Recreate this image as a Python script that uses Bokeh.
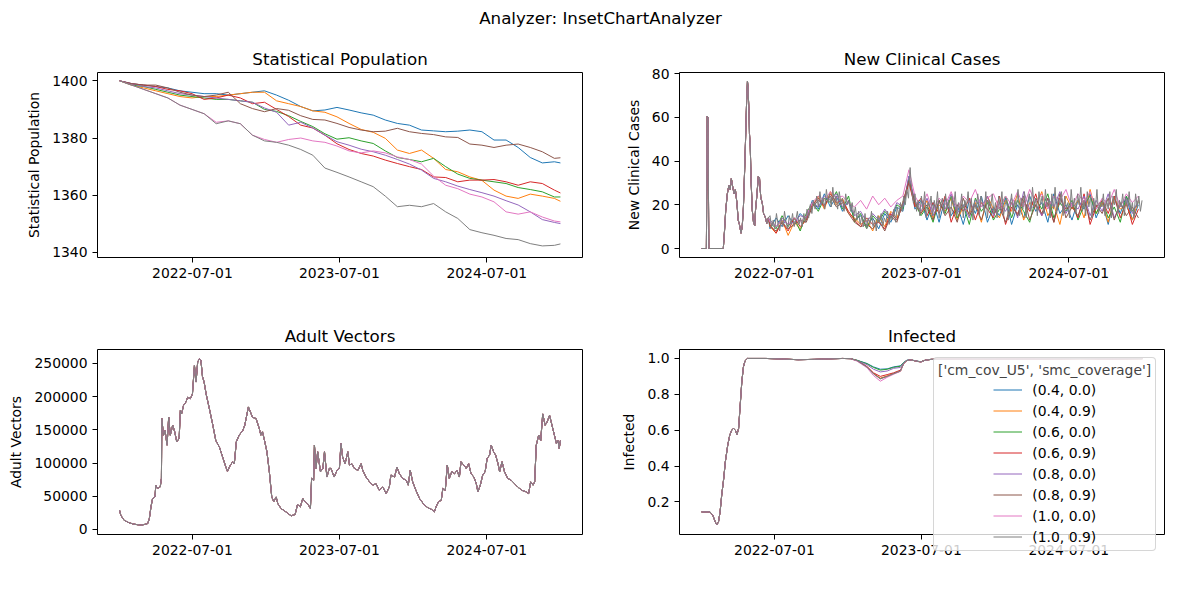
import datetime as dt
from bokeh.plotting import figure
from bokeh.layouts import column, row
from bokeh.models import (Range1d, FixedTicker, DatetimeTickFormatter, PrintfTickFormatter,
                          Legend, LegendItem, Label)
from bokeh.embed import file_html
from bokeh.resources import INLINE

# ---------------- data ----------------
START = dt.datetime(2022, 1, 1)
series_labels = ["(0.4, 0.0)", "(0.4, 0.9)", "(0.6, 0.0)", "(0.6, 0.9)",
                 "(0.8, 0.0)", "(0.8, 0.9)", "(1.0, 0.0)", "(1.0, 0.9)"]
colors = ["#1f77b4", "#ff7f0e", "#2ca02c", "#d62728",
          "#9467bd", "#8c564b", "#e377c2", "#7f7f7f"]
legend_title = "['cm_cov_U5', 'smc_coverage']"
x_tick_dates = ["2022-07-01", "2023-07-01", "2024-07-01"]

# Statistical Population (days since 2022-01-01)
pop_days = list(range(0, 1081, 30)) + [1095]
pop_04_00 = [1400, 1399, 1398.5, 1398, 1397.5, 1396.5, 1396, 1395.5, 1395.5, 1395,
             1395.5, 1396, 1396.5, 1395, 1393.2, 1391, 1389.5, 1389.8, 1390.7, 1389.8,
             1388.8, 1388, 1386.3, 1385.1, 1384.5, 1382.8, 1382.5, 1382.2, 1382.4, 1382.8,
             1382.2, 1379.3, 1379.3, 1376.7, 1373.2, 1371.3, 1371.7, 1371.3]
pop_04_09 = [1400, 1398.5, 1397.5, 1396.5, 1395.5, 1394.5, 1394, 1394.5, 1394.5, 1395,
             1395.5, 1396, 1396, 1393, 1392, 1391, 1389.5, 1389, 1387.4, 1385.1,
             1383, 1382, 1379.9, 1375.8, 1374.6, 1375.8, 1372.9, 1369, 1368.2, 1366.4,
             1365.2, 1361.8, 1359.7, 1358.9, 1360.4, 1359.7, 1358.9, 1357.9]
pop_06_00 = [1400, 1398.5, 1398, 1397, 1396, 1395, 1394.5, 1394, 1393.5, 1393.5,
             1393, 1392.5, 1390, 1389.3, 1387.8, 1385.8, 1384, 1381.5, 1379.6, 1380.1,
             1379, 1378.1, 1375.5, 1373.2, 1372.5, 1371.7, 1372.9, 1370, 1367.4, 1365.9,
             1365.3, 1364.7, 1364.1, 1362.7, 1362, 1361.2, 1359.4, 1359.4]
pop_06_09 = [1400, 1399, 1398.5, 1398, 1397, 1396.5, 1395.5, 1393.5, 1394, 1395,
             1394, 1392, 1392.5, 1390, 1387.5, 1384.5, 1383.5, 1381, 1378, 1376,
             1374.6, 1373.7, 1372.3, 1371.1, 1370, 1369, 1366.4, 1366.2, 1364.7, 1365.3,
             1365.3, 1365.5, 1364.7, 1363.5, 1364.7, 1364.1, 1361.8, 1360.8]
pop_08_00 = [1400, 1399, 1398, 1397.5, 1396.5, 1395.5, 1395, 1394.5, 1394, 1393.5,
             1393, 1392.5, 1390.5, 1389, 1384.5, 1385.5, 1383.5, 1381, 1378.7, 1377.5,
             1376.1, 1375.2, 1374, 1372.5, 1370.9, 1368.8, 1365.9, 1364.7, 1363.2, 1362,
             1360.9, 1359.7, 1358.1, 1356.6, 1354.2, 1351.5, 1350.5, 1350.1]
pop_08_09 = [1400, 1399, 1398.5, 1398.5, 1397.5, 1396, 1395, 1394.5, 1395, 1396,
             1392, 1390.3, 1389.2, 1390.3, 1389.7, 1387.8, 1386.5, 1386.3, 1385.1, 1383.7,
             1382.8, 1382.2, 1382.4, 1383.4, 1382.2, 1381.6, 1381.2, 1380.4, 1380.2, 1377.9,
             1377.5, 1376.7, 1377.5, 1377.9, 1376.7, 1375.2, 1372.9, 1373.1]
pop_10_00 = [1400, 1398.5, 1397, 1395.5, 1394, 1391.5, 1390, 1388.5, 1385.5, 1386,
             1385, 1381, 1379.5, 1378.5, 1379.5, 1380, 1379, 1378.5, 1377.2, 1375.5,
             1374.8, 1375.5, 1374.8, 1373.4, 1372.5, 1370.9, 1366.7, 1363.5, 1362.3, 1360.4,
             1359.4, 1357.7, 1354.2, 1353.4, 1354.2, 1352.4, 1351, 1350.7]
pop_10_09 = [1400, 1398.5, 1397, 1395.5, 1394, 1391.5, 1390, 1388.5, 1385, 1386,
             1385, 1381, 1379, 1378.5, 1377.5, 1376, 1374, 1369.5, 1368, 1366.4,
             1364.7, 1363, 1359.7, 1356, 1356.5, 1356, 1357.1, 1354.2, 1351.9, 1348,
             1346.9, 1346, 1344.9, 1344.5, 1343.1, 1342.3, 1342.5, 1343]
pop_series = [pop_04_00, pop_04_09, pop_06_00, pop_06_09,
              pop_08_00, pop_08_09, pop_10_00, pop_10_09]

# New Clinical Cases: shared start (all scenarios identical), then per scenario
cases_early_days = [0, 12, 14, 16, 18, 54, 57, 60, 64, 68, 71, 74, 78, 81, 84, 88, 91, 94,
                    98, 101, 104, 107, 109, 112, 114, 115, 118, 119, 121, 123, 126, 129,
                    132, 134, 137, 141, 144, 147, 151, 154, 158, 162, 166]
cases_early = [0, 0, 60.5, 60, 0, 0, 8, 17.5, 25, 29, 27, 32, 27.5, 25, 27, 20.5, 13, 11,
               7, 10, 19, 36, 48, 68, 76.5, 74.5, 62, 52.5, 46.5, 31, 17.5, 12,
               10.5, 17.5, 23.5, 33, 32, 23.5, 20.5, 16, 14.5, 11.5, 14]
cases_late_start = 170
cases_step_gray = 4
cases_step_other = 15
cases_10_09 = [15, 10, 13, 9, 16, 11, 8, 14, 10, 17,
               12, 9, 15, 11, 16, 10, 13, 17, 11, 14,
               10, 16, 12, 18, 14, 20, 16, 22, 18, 24,
               19, 26, 20, 23, 18, 27, 21, 25, 19, 28,
               20, 24, 18, 26, 21, 23, 17, 25, 20, 22,
               17, 21, 15, 19, 13, 17, 11, 15, 10, 16,
               9, 14, 11, 17, 10, 13, 8, 15, 12, 16,
               10, 14, 12, 17, 11, 15, 13, 18, 12, 19,
               15, 21, 17, 24, 20, 27, 23, 37, 26, 21,
               25, 17, 22, 15, 24, 18, 26, 14, 21, 19,
               24, 15, 22, 18, 26, 14, 20, 23, 16, 25,
               18, 22, 14, 24, 19, 26, 15, 21, 17, 25,
               14, 22, 19, 26, 16, 23, 13, 21, 18, 25,
               15, 24, 20, 17, 26, 14, 22, 19, 25, 16,
               21, 14, 24, 18, 26, 15, 20, 23, 13, 19,
               25, 16, 22, 19, 27, 15, 23, 18, 26, 14,
               21, 25, 17, 28, 19, 23, 15, 26, 20, 24,
               16, 27, 19, 22, 14, 25, 18, 28, 16, 23,
               20, 26, 15, 24, 18, 21, 14, 27, 19, 23,
               16, 25, 20, 28, 17, 22, 15, 26, 19, 24,
               14, 23, 18, 27, 16, 21, 19, 25, 15, 22,
               18, 26, 14, 24, 20, 27, 16, 22, 19, 25,
               15, 23, 18, 26, 17, 21, 14, 25, 19, 24,
               17, 22]
cases_04_00 = [9, 14, 10, 15, 11, 16, 13, 22, 18, 25, 19, 24, 17, 22, 13, 15, 10, 14, 9, 16,
               12, 19, 17, 33, 18, 22, 13, 21, 12, 23, 15, 20, 11, 22, 16, 24, 12, 19, 15, 23,
               11, 20, 14, 24, 17, 21, 12, 25, 16, 20, 13, 22, 18, 25, 14, 21, 11, 23, 16, 24,
               13, 20]
cases_04_09 = [10, 7, 13, 6, 12, 9, 14, 19, 24, 18, 26, 20, 23, 16, 14, 11, 13, 8, 15, 10,
               17, 14, 21, 31, 20, 16, 22, 14, 20, 17, 23, 13, 19, 16, 21, 12, 24, 18, 14, 22,
               17, 25, 13, 21, 19, 26, 15, 20, 11, 24, 18, 22, 14, 27, 16, 21, 12, 23, 18, 20,
               13, 22]
cases_06_00 = [12, 9, 15, 10, 14, 8, 16, 21, 17, 23, 21, 26, 18, 24, 12, 16, 9, 15, 12, 17,
               14, 20, 18, 32, 21, 15, 19, 12, 22, 16, 24, 14, 20, 11, 23, 17, 21, 13, 18, 24,
               14, 22, 17, 12, 23, 18, 25, 14, 21, 17, 22, 13, 20, 24, 16, 22, 14, 19, 12, 24,
               17, 21]
cases_06_09 = [11, 7, 12, 8, 14, 10, 13, 20, 23, 19, 25, 21, 22, 17, 13, 10, 14, 11, 12, 9,
               16, 13, 20, 30, 19, 23, 15, 21, 16, 24, 12, 20, 17, 23, 13, 21, 18, 14, 24, 11,
               19, 16, 22, 17, 25, 15, 21, 12, 23, 18, 20, 14, 25, 11, 19, 22, 16, 24, 14, 21,
               11, 18]
cases_08_00 = [13, 10, 14, 11, 12, 15, 14, 21, 19, 24, 22, 25, 19, 21, 15, 17, 12, 16, 13, 18,
               14, 21, 19, 33, 22, 17, 23, 15, 21, 18, 25, 16, 20, 14, 22, 19, 24, 15, 21, 17,
               23, 14, 26, 18, 20, 15, 23, 19, 26, 16, 21, 18, 24, 15, 22, 17, 25, 14, 20, 23,
               16, 22]
cases_08_09 = [10, 8, 12, 9, 11, 13, 12, 19, 22, 20, 24, 19, 21, 16, 12, 10, 11, 9, 13, 8,
               15, 12, 21, 31, 21, 16, 20, 13, 22, 15, 19, 12, 23, 15, 20, 13, 22, 16, 19, 12,
               21, 15, 24, 13, 20, 16, 23, 12, 25, 14, 19, 15, 22, 13, 20, 16, 23, 13, 21, 15,
               19, 14]
cases_10_00 = [12, 10, 13, 11, 14, 12, 15, 21, 24, 22, 26, 23, 24, 21, 19, 22, 18, 24, 20, 23,
               19, 22, 24, 36, 24, 19, 25, 17, 23, 20, 26, 18, 24, 21, 27, 19, 23, 25, 18, 24,
               20, 26, 19, 27, 21, 25, 18, 24, 22, 27, 19, 25, 21, 26, 18, 23, 20, 27, 19, 25,
               21, 24]
cases_series = [cases_04_00, cases_04_09, cases_06_00, cases_06_09,
                cases_08_00, cases_08_09, cases_10_00, cases_10_09]

# Adult Vectors (identical for all scenarios), values in thousands
vector_days = [0, 3, 11, 24, 36, 53, 65, 70, 74, 78,
               82, 88, 90, 94, 101, 104, 105, 109, 113, 118,
               122, 126, 132, 137, 142, 148, 151, 154, 159, 165,
               169, 176, 181, 186, 190, 194, 198, 202, 206, 210,
               215, 223, 231, 239, 248, 256, 264, 268, 275, 281,
               285, 290, 297, 306, 311, 320, 325, 330, 339, 347,
               351, 355, 360, 366, 372, 378, 383, 389, 393, 401,
               413, 426, 436, 442, 449, 455, 461, 467, 474, 477,
               482, 484, 488, 492, 499, 505, 509, 515, 521, 525,
               533, 540, 546, 550, 554, 560, 567, 571, 577, 583,
               592, 600, 604, 612, 621, 629, 637, 645, 654, 662,
               670, 674, 683, 689, 695, 703, 712, 717, 722, 728,
               736, 745, 756, 766, 774, 782, 786, 792, 799, 803,
               809, 814, 819, 825, 832, 838, 844, 848, 855, 861,
               867, 873, 880, 886, 890, 896, 902, 908, 913, 919,
               923, 929, 934, 940, 944, 950, 956, 964, 973, 981,
               989, 999, 1010, 1016, 1021, 1027, 1031, 1035, 1041, 1046,
               1051, 1057, 1062, 1068, 1074, 1080, 1085, 1089, 1092, 1095]
vector_k = [29, 21.5, 14, 10, 8, 6.5, 8, 9, 16.6, 34,
            46.7, 49, 66.8, 61.8, 64, 77, 167, 142, 149, 127,
            169, 142, 157, 147, 132, 137, 179, 174, 187, 192,
            199, 197, 204, 247, 222, 252, 257, 255, 230, 222,
            204, 182, 159, 134, 124, 109, 94, 87.7, 96.7, 102,
            99, 132, 142, 149, 157, 184.5, 177, 169, 167, 152,
            142, 147, 134, 117, 87, 49, 42, 49, 39, 31.6,
            26.6, 20.6, 22.6, 37.6, 34, 46.7, 41.7, 39, 31.6, 77,
            74, 127, 92, 117, 87, 92, 117, 79, 92, 92,
            79, 89, 92, 129.6, 109, 99, 117, 97, 99, 92,
            89, 99, 89, 79, 71.7, 66.8, 69, 59, 64, 54,
            64, 82, 79, 94, 84, 77, 74, 66.8, 89, 71.7,
            59, 46.7, 37.6, 32.6, 30.6, 26.6, 34, 41.7, 44, 61.8,
            59, 97, 77, 87, 84, 89, 79, 102, 97, 92,
            99, 84, 79, 69, 56.7, 66.8, 82, 87, 107, 112,
            127, 117, 112, 99, 87, 102, 87, 77, 74, 69,
            64, 59, 56.7, 54, 71.7, 66.8, 71.7, 127, 142, 134,
            174, 157, 162, 172, 157, 142, 129.6, 134, 122, 134]

# Infected
inf_early_days = [0, 21, 28, 34, 38, 42, 46, 50, 55, 59, 65, 70, 75, 79, 84, 88, 92, 96,
                  100, 104, 108, 114, 160, 200, 240, 280, 320, 350, 370]
inf_early = [0.144, 0.144, 0.125, 0.088, 0.072, 0.088, 0.144, 0.237, 0.33, 0.423, 0.516,
             0.572, 0.60, 0.61, 0.60, 0.575, 0.61, 0.74, 0.87, 0.953, 0.987, 1.0, 1.0,
             0.997, 0.993, 0.995, 0.998, 1.0, 0.999]
inf_late_days = [386, 411, 427, 444, 461, 477, 494, 502, 510, 520, 535, 545, 555, 570,
                 620, 700, 780, 860, 940, 1020, 1095]
inf_04_00 = [0.99, 0.972, 0.953, 0.94, 0.942, 0.953, 0.959, 0.978, 0.99, 0.992, 0.985,
             0.982, 0.99, 0.995, 0.997, 0.998, 0.997, 0.998, 0.999, 0.998, 0.999]
inf_04_09 = [0.988, 0.953, 0.916, 0.89, 0.903, 0.916, 0.929, 0.972, 0.988, 0.992, 0.984,
             0.981, 0.99, 0.995, 0.997, 0.998, 0.997, 0.998, 0.999, 0.998, 0.999]
inf_06_00 = [0.99, 0.97, 0.95, 0.935, 0.94, 0.95, 0.957, 0.977, 0.99, 0.992, 0.985,
             0.981, 0.99, 0.995, 0.997, 0.998, 0.997, 0.998, 0.999, 0.998, 0.999]
inf_06_09 = [0.988, 0.955, 0.92, 0.9, 0.91, 0.92, 0.935, 0.972, 0.988, 0.992, 0.984,
             0.981, 0.99, 0.995, 0.997, 0.998, 0.997, 0.998, 0.999, 0.998, 0.999]
inf_08_00 = [0.988, 0.965, 0.94, 0.925, 0.93, 0.945, 0.95, 0.975, 0.99, 0.992, 0.985,
             0.981, 0.99, 0.995, 0.997, 0.998, 0.997, 0.998, 0.999, 0.998, 0.999]
inf_08_09 = [0.988, 0.953, 0.915, 0.888, 0.9, 0.915, 0.93, 0.972, 0.988, 0.992, 0.984,
             0.981, 0.99, 0.995, 0.997, 0.998, 0.997, 0.998, 0.999, 0.998, 0.999]
inf_10_00 = [0.985, 0.948, 0.905, 0.873, 0.895, 0.912, 0.928, 0.97, 0.988, 0.992, 0.984,
             0.98, 0.99, 0.995, 0.997, 0.998, 0.997, 0.998, 0.999, 0.998, 0.999]
inf_10_09 = [0.988, 0.952, 0.914, 0.886, 0.9, 0.915, 0.93, 0.972, 0.988, 0.992, 0.984,
             0.981, 0.99, 0.995, 0.997, 0.998, 0.997, 0.998, 0.999, 0.998, 0.999]
inf_series = [inf_04_00, inf_04_09, inf_06_00, inf_06_09,
              inf_08_00, inf_08_09, inf_10_00, inf_10_09]

# ---------------- helpers ----------------
FONT = "DejaVu Sans"
TICK_FS = "13.9px"
TITLE_FS = "16.7px"
EPOCH = dt.datetime(1970, 1, 1)


def to_dates(days):
    return [START + dt.timedelta(days=float(d)) for d in days]


def ms(d):
    return (d - EPOCH).total_seconds() * 1000.0


X0 = START - dt.timedelta(days=54.8)
X1 = START + dt.timedelta(days=1095 + 54.8)
xticks = [ms(dt.datetime.strptime(s, "%Y-%m-%d")) for s in x_tick_dates]


def make_fig(title, ylabel, yr, yticks, yfmt, bl, br, bt, bb):
    p = figure(frame_width=485, frame_height=185, x_axis_type="datetime",
               x_range=Range1d(X0, X1), y_range=Range1d(*yr),
               output_backend="svg", toolbar_location=None,
               min_border_left=bl, min_border_right=br,
               min_border_top=bt, min_border_bottom=bb)
    p.title.text = title
    p.title.text_font = FONT
    p.title.text_font_size = TITLE_FS
    p.title.text_font_style = "normal"
    p.title.align = "center"
    p.title.standoff = 8
    p.title.text_color = "black"
    p.xgrid.visible = False
    p.ygrid.visible = False
    p.outline_line_color = "black"
    p.outline_line_alpha = 1.0
    p.outline_line_width = 1
    p.xaxis.ticker = FixedTicker(ticks=xticks)
    fmt = DatetimeTickFormatter()
    for a in ["milliseconds", "seconds", "minsec", "minutes", "hourmin", "hours",
              "days", "months", "years"]:
        setattr(fmt, a, "%Y-%m-%d")
    p.xaxis.formatter = fmt
    p.yaxis.ticker = FixedTicker(ticks=yticks)
    p.yaxis.formatter = PrintfTickFormatter(format=yfmt)
    for ax in (p.xaxis[0], p.yaxis[0]):
        ax.axis_line_color = None
        ax.major_tick_line_color = "black"
        ax.major_tick_in = 0
        ax.major_tick_out = 5
        ax.minor_tick_line_color = None
        ax.major_label_text_font = FONT
        ax.major_label_text_font_size = TICK_FS
        ax.major_label_text_color = "black"
        ax.major_label_standoff = 5
    p.yaxis.axis_label = ylabel
    p.yaxis.axis_label_text_font = FONT
    p.yaxis.axis_label_text_font_size = TICK_FS
    p.yaxis.axis_label_text_font_style = "normal"
    p.yaxis.axis_label_text_color = "black"
    p.yaxis.axis_label_standoff = 7
    return p


# ---------------- figures ----------------
header = figure(width=1180, height=38, x_range=(0, 1), y_range=(0, 1),
                output_backend="svg", toolbar_location=None,
                x_axis_location=None, y_axis_location=None, min_border=0,
                outline_line_color=None)
header.grid.visible = False
header.add_layout(Label(x=600, y=21, x_units="screen", y_units="screen",
                        text="Analyzer: InsetChartAnalyzer", text_align="center",
                        text_baseline="middle", text_font=FONT,
                        text_font_size=TITLE_FS, text_color="black"))

p1 = make_fig("Statistical Population", "Statistical Population", (1338.25, 1402.9),
              [1340, 1360, 1380, 1400], "%d", 97, 10, 34, 40)
p2 = make_fig("New Clinical Cases", "New Clinical Cases", (-4.11, 80.46),
              [0, 20, 40, 60, 80], "%d", 87, 16, 34, 40)
p3 = make_fig("Adult Vectors", "Adult Vectors", (-7530, 271000),
              [0, 50000, 100000, 150000, 200000, 250000], "%d", 97, 10, 52, 40)
p4 = make_fig("Infected", "Infected", (0.018, 1.05),
              [0.2, 0.4, 0.6, 0.8, 1.0], "%.1f", 87, 16, 52, 40)

pd_dates = to_dates(pop_days)
vec_dates = to_dates(vector_days)
vec_vals = [v * 1000 for v in vector_k]
inf_dates = to_dates(inf_early_days + inf_late_days)

for i, c in enumerate(colors):
    p1.line(pd_dates, pop_series[i], line_color=c, line_width=1)
    step = cases_step_gray if i == 7 else cases_step_other
    late = cases_series[i]
    cdays = cases_early_days + [cases_late_start + step * k for k in range(len(late))]
    p2.line(to_dates(cdays), cases_early + late, line_color=c, line_width=1)
    p3.line(vec_dates, vec_vals, line_color=c, line_width=1)
    p4.line(inf_dates, inf_early + inf_series[i], line_color=c, line_width=1)

# legend of the Infected panel: drawn on a transparent overlay figure so that
# it can extend below the panel frame as in the reference
legfig = figure(frame_width=226, frame_height=196, x_range=Range1d(0, 1),
                y_range=Range1d(0, 1), output_backend="svg", toolbar_location=None,
                x_axis_location=None, y_axis_location=None, min_border=0,
                outline_line_color=None, background_fill_alpha=0, border_fill_alpha=0)
legfig.grid.visible = False
legfig.margin = (-217, 0, 0, 341)
leg_renderers = [legfig.line(inf_dates, inf_early + inf_series[i], line_color=c, line_width=1)
                 for i, c in enumerate(colors)]
ghost = legfig.line(inf_dates, inf_early + inf_series[7], line_alpha=0)
# frame of the legend: title plus one empty block as tall as the eight entries
legend_box = Legend(items=[LegendItem(label="", renderers=[ghost])],
                    title=legend_title, location="top_left",
                    title_text_font=FONT, title_text_font_size=TICK_FS,
                    title_text_font_style="normal", title_standoff=3,
                    label_text_font=FONT, label_text_font_size=TICK_FS,
                    glyph_width=1, label_standoff=0, glyph_height=165, label_height=165,
                    spacing=0, padding=4, margin=0,
                    background_fill_color="white", background_fill_alpha=0.8,
                    border_line_color="#cccccc", border_line_alpha=0.8, border_line_width=1)
try:
    legend_box.border_radius = 4
except Exception:
    pass
legend_items = Legend(items=[LegendItem(label=l, renderers=[r])
                             for l, r in zip(series_labels, leg_renderers)],
                      location=(60.3, 5.9),
                      label_text_font=FONT, label_text_font_size=TICK_FS, label_text_color="black",
                      glyph_width=29, label_standoff=10, glyph_height=21, label_height=21,
                      spacing=0, padding=0, margin=0,
                      background_fill_alpha=0, border_line_color=None)
legfig.add_layout(legend_box, "center")
legfig.add_layout(legend_items, "center")

layout = column(header, row(p1, p2), row(p3, column(p4, legfig)))
open("out.html", "w").write(file_html(layout, INLINE))
